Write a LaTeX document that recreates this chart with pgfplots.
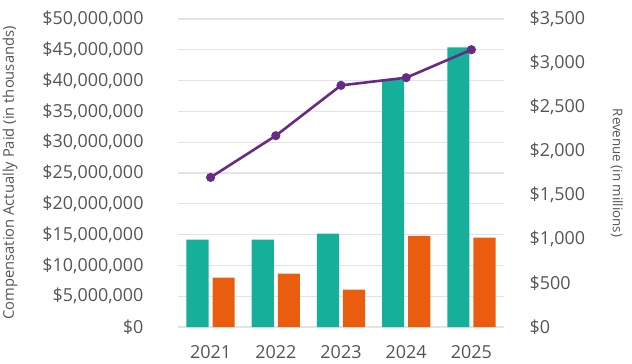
\documentclass[border=0pt]{standalone}
\usepackage{pgfplots}
\pgfplotsset{compat=1.18}
\usepackage{fontspec}
\setmainfont{Open Sans}
\definecolor{teal1}{HTML}{16B09A}
\definecolor{orange1}{HTML}{EA5D0F}
\definecolor{purple1}{HTML}{682A85}
\definecolor{gridg}{HTML}{E3E3E3}
\definecolor{txt}{HTML}{555555}
\begin{document}
\begin{tikzpicture}
\path[use as bounding box] (0,0) rectangle (632bp,364bp);
\begin{axis}[
  at={(178bp,37bp)}, anchor=south west,
  scale only axis, width=326bp, height=308bp,
  xmin=-0.5, xmax=4.5, ymin=0, ymax=50000000,
  axis line style={draw=none}, axis x line*=bottom, axis y line*=left,
  tick style={draw=none},
  xtick={0,1,2,3,4}, xticklabels={2021,2022,2023,2024,2025},
  ytick={0,5000000,10000000,15000000,20000000,25000000,30000000,35000000,40000000,45000000,50000000},
  yticklabels={{\$0},{\$5,000,000},{\$10,000,000},{\$15,000,000},{\$20,000,000},{\$25,000,000},{\$30,000,000},{\$35,000,000},{\$40,000,000},{\$45,000,000},{\$50,000,000}},
  scaled y ticks=false,
  ymajorgrids, grid style={gridg, line width=1.2bp},
  ticklabel style={font=\fontsize{18}{20}\selectfont, text=txt},
  yticklabel style={xshift=-31bp},
  xticklabel style={yshift=-15bp},
  ylabel={Compensation Actually Paid (in thousands)},
  every axis y label/.style={at={(axis description cs:0,0.5)}, xshift=-168bp, rotate=90, anchor=center, font=\fontsize{14.8}{16}\selectfont, text=txt},
  clip=false,
]
\addplot[ybar, bar width=0.34, bar shift=-0.2, fill=teal1, draw=none] coordinates {
  (0,14200000) (1,14200000) (2,15150000) (3,40200000) (4,45400000)};
\addplot[ybar, bar width=0.34, bar shift=0.2, fill=orange1, draw=none] coordinates {
  (0,8000000) (1,8650000) (2,6050000) (3,14800000) (4,14500000)};
\end{axis}
\begin{axis}[
  at={(178bp,37bp)}, anchor=south west,
  scale only axis, width=326bp, height=308bp,
  xmin=-0.5, xmax=4.5, ymin=0, ymax=3500,
  axis x line=none, axis y line*=right,
  axis line style={draw=none}, tick style={draw=none},
  ytick={0,500,1000,1500,2000,2500,3000,3500},
  yticklabels={{\$0},{\$500},{\$1,000},{\$1,500},{\$2,000},{\$2,500},{\$3,000},{\$3,500}},
  ticklabel style={font=\fontsize{18}{20}\selectfont, text=txt},
  yticklabel style={xshift=22bp},
  ylabel={Revenue (in millions)},
  every axis y label/.style={at={(axis description cs:1,0.5)}, xshift=113bp, rotate=-90, anchor=center, font=\fontsize{13.4}{15}\selectfont, text=txt},
  clip=false,
]
\addplot[purple1, line width=2.6bp, mark=*, mark size=3.2bp] coordinates {
  (0,1700) (1,2174) (2,2746) (3,2833) (4,3151)};
\end{axis}
\end{tikzpicture}
\end{document}
